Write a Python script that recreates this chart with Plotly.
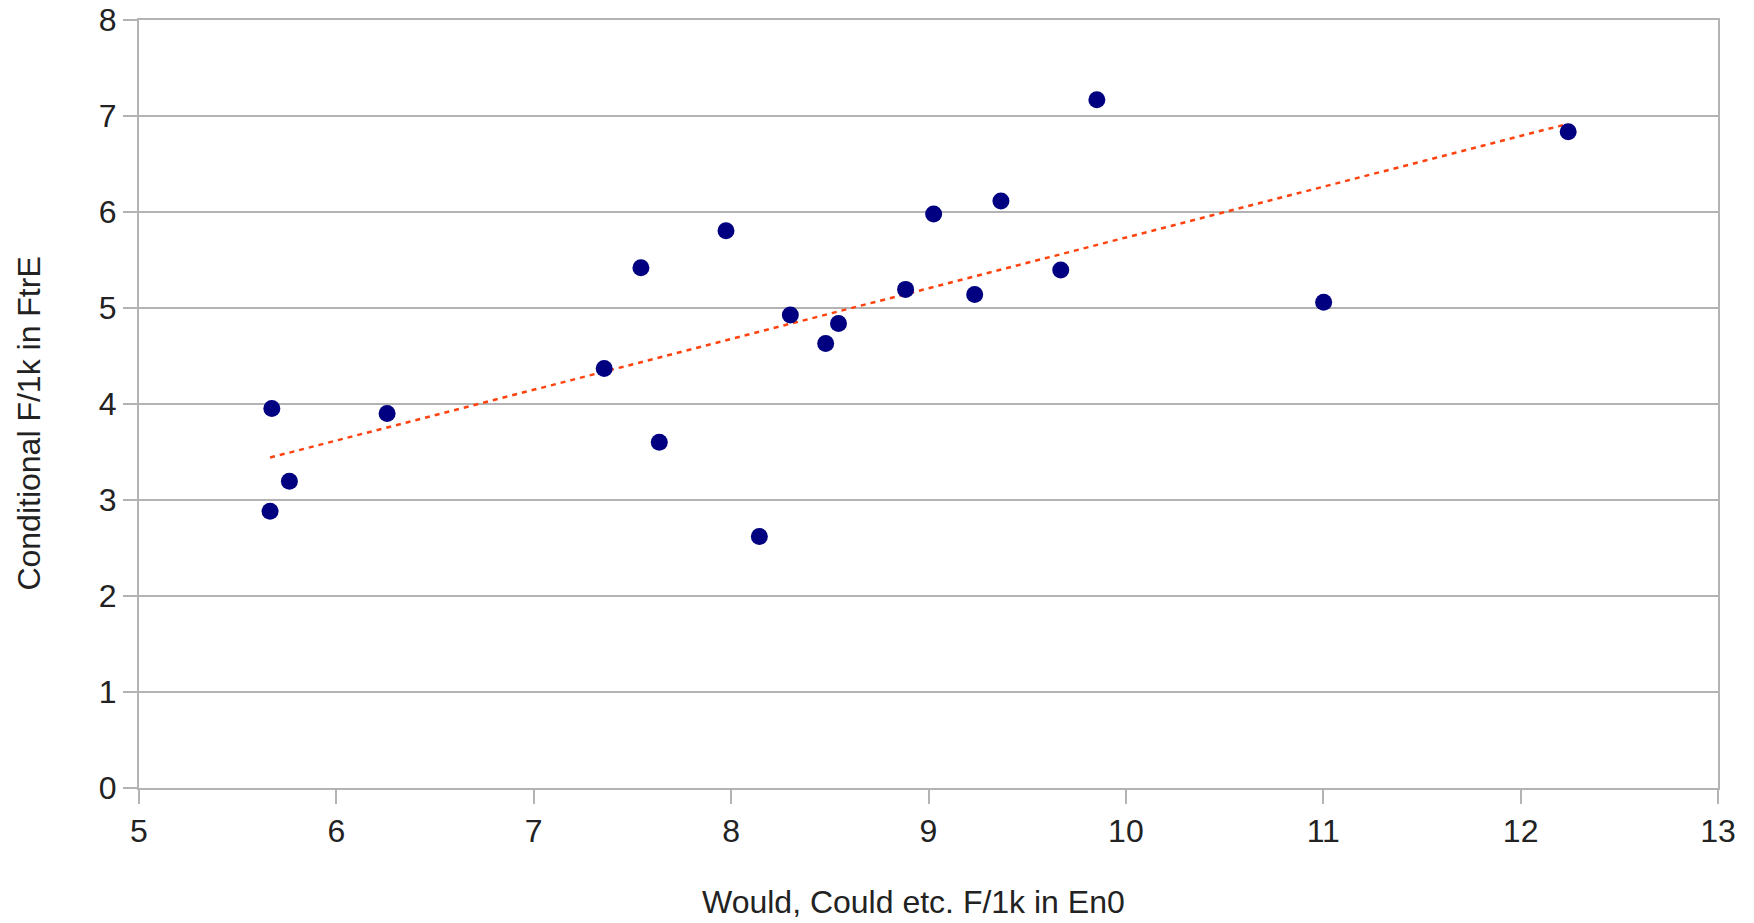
import numpy as np
import plotly.graph_objects as go

x_vals = [5.673, 5.664, 5.762, 6.257, 7.357, 7.543, 7.636, 7.974, 8.143, 8.300,
          8.479, 8.544, 8.884, 9.026, 9.234, 9.367, 9.670, 9.853, 11.002, 12.241]
y_vals = [3.954, 2.883, 3.196, 3.900, 4.370, 5.419, 3.602, 5.805, 2.620, 4.926,
          4.631, 4.839, 5.194, 5.979, 5.141, 6.114, 5.395, 7.170, 5.060, 6.836]

x_ticks = [5, 6, 7, 8, 9, 10, 11, 12, 13]
y_ticks = [0, 1, 2, 3, 4, 5, 6, 7, 8]

x_title = "Would, Could etc. F/1k in En0"
y_title = "Conditional F/1k in FtrE"

slope, intercept = np.polyfit(x_vals, y_vals, 1)
tx = [min(x_vals), max(x_vals)]
ty = [slope * v + intercept for v in tx]

fig = go.Figure()
fig.add_trace(go.Scatter(x=tx, y=ty, mode="lines",
                         line=dict(color="#ff420e", width=2.5, dash="5px,5px"),
                         showlegend=False, hoverinfo="skip"))
fig.add_trace(go.Scatter(x=x_vals, y=y_vals, mode="markers",
                         marker=dict(color="#000080", size=17, symbol="circle",
                                     line=dict(width=0)),
                         showlegend=False))

font = dict(family="Liberation Sans, Arial, sans-serif", size=32, color="#222222")
axis_common = dict(showline=True, linecolor="#b3b3b3", linewidth=2, mirror=True,
                   gridcolor="#b3b3b3", gridwidth=2, ticks="outside", ticklen=14,
                   tickcolor="#b3b3b3", tickwidth=2, zeroline=False,
                   tickfont=font, automargin=False)

fig.update_layout(
    width=1754, height=923,
    margin=dict(l=139, r=36, t=20, b=135),
    plot_bgcolor="white", paper_bgcolor="white",
    font=font,
    xaxis=dict(range=[5, 13], tickvals=x_ticks, showgrid=False, **axis_common),
    yaxis=dict(range=[0, 8], tickvals=y_ticks, showgrid=True, **axis_common),
    annotations=[
        dict(text=x_title, xref="paper", yref="paper", x=0.4904, y=-0.1484,
             xanchor="center", yanchor="middle", showarrow=False, font=font),
        dict(text=y_title, xref="paper", yref="paper", x=-0.0697, y=0.4744,
             xanchor="center", yanchor="middle", showarrow=False, font=font,
             textangle=-90),
    ],
)

fig.write_html("out.html", config={"displayModeBar": False},
               post_script="document.body.style.margin='0';document.body.style.overflow='hidden';")
